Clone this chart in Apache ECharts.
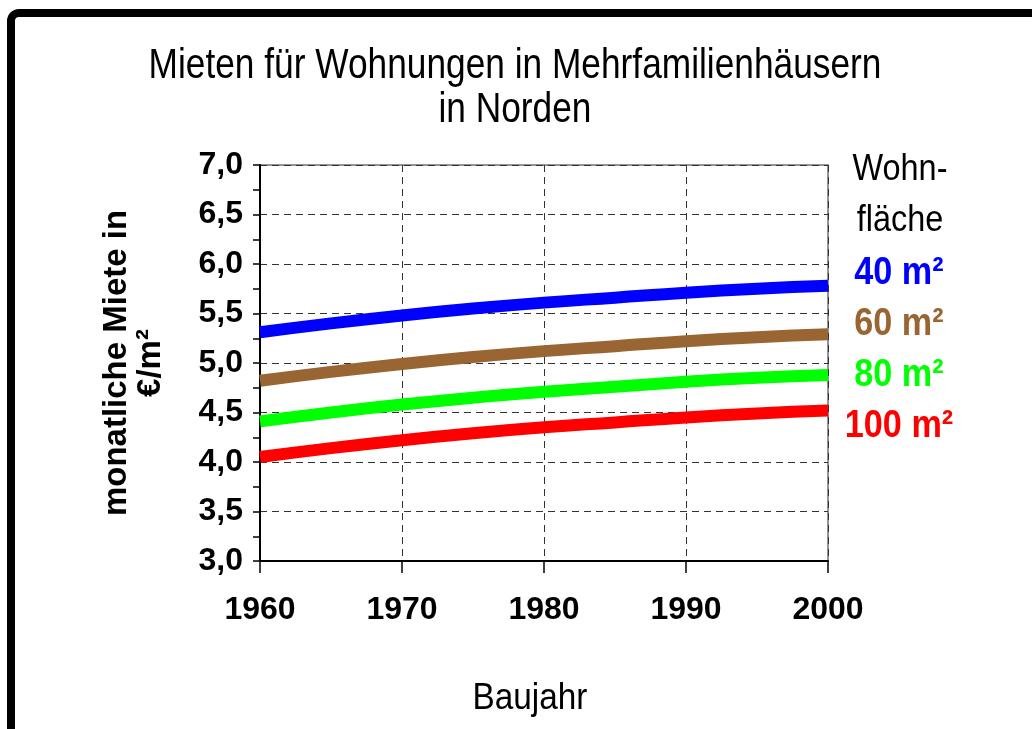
<!DOCTYPE html>
<html>
<head>
<meta charset="utf-8">
<script src="https://cdn.jsdelivr.net/npm/echarts@6/dist/echarts.min.js"></script>
<style>
  html, body { margin: 0; padding: 0; background: #fff; }
  #chart { width: 1032px; height: 729px; }
</style>
</head>
<body>
<div id="chart"></div>
<script>
// ---- data ----
const years = [1960, 1965, 1970, 1975, 1980, 1985, 1990, 1995, 2000];
const rent40  = [5.31, 5.40, 5.48, 5.55, 5.61, 5.66, 5.71, 5.75, 5.78];
const rent60  = [4.82, 4.91, 4.99, 5.06, 5.12, 5.17, 5.22, 5.26, 5.29];
const rent80  = [4.41, 4.50, 4.58, 4.65, 4.71, 4.76, 4.81, 4.85, 4.88];
const rent100 = [4.05, 4.14, 4.22, 4.29, 4.35, 4.40, 4.45, 4.49, 4.52];
const seriesNames = ['40 m²', '60 m²', '80 m²', '100 m²'];
const seriesColors = ['#0000ff', '#996633', '#00ff00', '#ff0000'];
const titleLines = ['Mieten für Wohnungen in Mehrfamilienhäusern', 'in Norden'];
const legendTitle = ['Wohn-', 'fläche'];
const xAxisTitle = 'Baujahr';
const yAxisTitle = 'monatliche Miete in\n€/m²';

const allSeries = [rent40, rent60, rent80, rent100];
const pairs = arr => years.map((y, i) => [y, arr[i]]);

const chart = echarts.init(document.getElementById('chart'), null, { renderer: 'canvas' });
const FONT = '"Liberation Sans", Arial, sans-serif';

const graphics = [
  { type: 'rect', shape: { x: 11, y: 13, width: 1045, height: 760, r: 8 },
    style: { fill: 'none', stroke: '#000', lineWidth: 8 }, silent: true, z: 100 },
  { type: 'text', x: 515, y: 66, scaleX: 0.84,
    style: { text: titleLines[0], font: '42px ' + FONT, fill: '#000', align: 'center', verticalAlign: 'middle' } },
  { type: 'text', x: 515, y: 110, scaleX: 0.84,
    style: { text: titleLines[1], font: '42px ' + FONT, fill: '#000', align: 'center', verticalAlign: 'middle' } },
  { type: 'text', x: 900, y: 170, scaleX: 0.9,
    style: { text: legendTitle[0], font: '36px ' + FONT, fill: '#000', align: 'center', verticalAlign: 'middle' } },
  { type: 'text', x: 900, y: 221, scaleX: 0.9,
    style: { text: legendTitle[1], font: '36px ' + FONT, fill: '#000', align: 'center', verticalAlign: 'middle' } },
  { type: 'text', x: 530, y: 699, scaleX: 0.9,
    style: { text: xAxisTitle, font: '37px ' + FONT, fill: '#000', align: 'center', verticalAlign: 'middle' } }
];
seriesNames.forEach((n, i) => {
  graphics.push({ type: 'text', x: 899, y: 274 + i * 51, scaleX: 0.9,
    style: { text: n, font: 'bold 38px ' + FONT, fill: seriesColors[i], align: 'center', verticalAlign: 'middle' } });
});

chart.setOption({
  animation: false,
  backgroundColor: '#fff',
  grid: { left: 260, right: 204, top: 165, bottom: 168, show: true, borderColor: '#707070', borderWidth: 1.5 },
  xAxis: {
    type: 'value', min: 1960, max: 2000, interval: 10,
    axisLine: { show: true, onZero: false, lineStyle: { color: '#000', width: 2 } },
    axisTick: { show: true, inside: false, length: 12, lineStyle: { color: '#000', width: 1.5 } },
    axisLabel: { formatter: v => String(v), fontFamily: FONT, fontWeight: 'bold', fontSize: 32, color: '#000', margin: 33 },
    splitLine: { show: true, lineStyle: { color: '#333', type: [7, 5], width: 1 } }
  },
  yAxis: {
    type: 'value', min: 3, max: 7, interval: 0.5,
    name: yAxisTitle, nameLocation: 'middle', nameRotate: 90, nameGap: 92,
    nameTextStyle: { fontFamily: FONT, fontWeight: 'bold', fontSize: 33, lineHeight: 34, color: '#000', align: 'center' },
    axisLine: { show: true, lineStyle: { color: '#000', width: 2 } },
    axisTick: { show: true, inside: false, length: 7, lineStyle: { color: '#000', width: 1.5 } },
    minorTick: { show: true, splitNumber: 2, length: 7, lineStyle: { color: '#000', width: 1.5 } },
    axisLabel: { formatter: v => v.toFixed(1).replace('.', ','), fontFamily: FONT, fontWeight: 'bold', fontSize: 32, color: '#000', margin: 17 },
    splitLine: { show: true, lineStyle: { color: '#333', type: [7, 5], width: 1 } }
  },
  series: allSeries.map((arr, i) => ({
    name: seriesNames[i], type: 'line', data: pairs(arr), smooth: 0.5,
    showSymbol: false, symbol: 'none',
    lineStyle: { color: seriesColors[i], width: 12, cap: 'butt' },
    itemStyle: { color: seriesColors[i] },
    z: 5
  })),
  graphic: graphics
});
</script>
</body>
</html>
